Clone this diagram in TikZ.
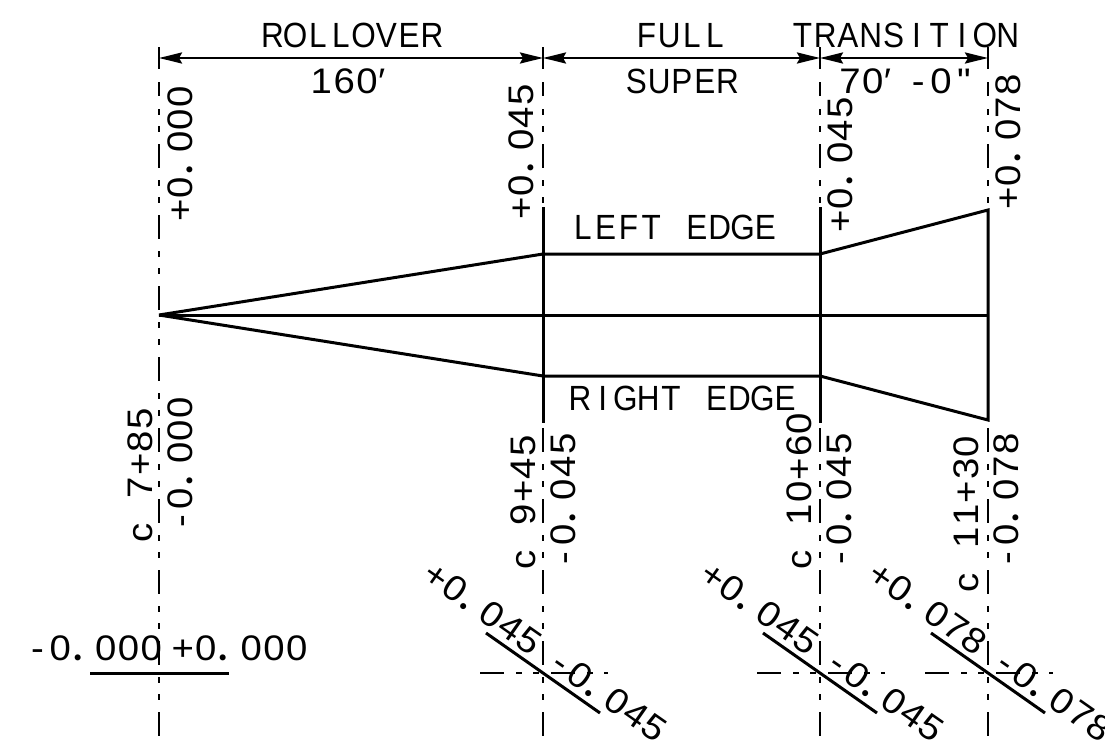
\documentclass[tikz,border=0pt]{standalone}
\usepackage{fontspec}
\setmainfont{Liberation Sans}
\newfontfamily\cadfont[FakeStretch=0.9]{Liberation Sans}
\newfontfamily\numfont[FakeStretch=1.08]{Liberation Sans}
\newfontfamily\dotfont{Lato}
\usetikzlibrary{arrows.meta}
\makeatletter
\newlength{\cadpitch}\setlength{\cadpitch}{22.8pt}
\def\cad@dot{.}\def\cad@sp{~}\def\cad@pr{'}
\newcommand{\cad@run}[1]{\@tfor\cad@x:=#1\do{%
  \ifx\cad@x\cad@dot\makebox[\cadpitch][c]{\hspace{-10pt}{\fontsize{48}{48}\dotfont.}}%
  \else\ifx\cad@x\cad@sp\hspace{\cadpitch}%
  \else\ifx\cad@x\cad@pr\makebox[\cadpitch][c]{\hspace{-16pt}′}%
  \else\makebox[\cadpitch][c]{\cad@x}\fi\fi\fi}}
\newcommand{\cadstr}[1]{{\fontsize{35}{35}\cadfont\cad@run{#1}}}
\newcommand{\cadnum}[1]{{\fontsize{35.5}{35.5}\numfont\cad@run{#1}}}
\makeatother
\tikzset{
  cadlabel/.style={inner sep=0pt,outer sep=0pt,anchor=base west,text=black},
  uplabel/.style={cadlabel,rotate=90},
  slantlabel/.style={cadlabel,rotate=-35},
  heavy/.style={line width=3pt,draw=black,line cap=butt},
  dimline/.style={line width=2.6pt,draw=black,{Stealth[length=23pt,width=11pt,inset=3pt]}-{Stealth[length=23pt,width=11pt,inset=3pt]}},
  tick/.style={line width=1.8pt,draw=black},
  chain/.style={line width=1.8pt,draw=black,dash pattern=on 24pt off 12pt on 6pt off 11pt on 6pt off 12pt}
}
\begin{document}
\begin{tikzpicture}[x=1pt,y=-1pt]
\useasboundingbox (0,0) rectangle (1105,742);
\clip (0,0) rectangle (1105,742);
\foreach \n/\x in {a/159,b/543,c/820,d/988}{
  \coordinate (\n tt) at (\x,47);
  \coordinate (\n dim) at (\x,58);
  \coordinate (\n tb) at (\x,69);
  \coordinate (\n st) at (\x,82);
  \coordinate (\n se) at (\x,96);
  \coordinate (\n ch) at (\x,109);
  \coordinate (\n end) at (\x,737);
  \draw[tick] (\n tt) -- (\n tb);
  \draw[tick] (\n st) -- (\n se);
  \draw[chain,dash phase=36pt] (\n ch) -- (\n end);
}
\draw[dimline] (adim) -- (bdim);
\draw[dimline] (bdim) -- (cdim);
\draw[dimline] (cdim) -- (ddim);
% section outline
\coordinate (apex) at (159,315);
\coordinate (lb) at (543,254); \coordinate (lc) at (820,254); \coordinate (ld) at (988,210);
\coordinate (rb) at (543,376); \coordinate (rc) at (820,376); \coordinate (rd) at (988,420);
\coordinate (mid) at (988,315);
\coordinate (bt) at (543,207); \coordinate (bb) at (543,423);
\coordinate (ct) at (820,207); \coordinate (cb) at (820,423);
\draw[heavy,line join=miter] (apex) -- (lb) -- (lc) -- (ld) -- (rd) -- (rc) -- (rb) -- (apex);
\draw[heavy] (apex) -- (mid);
\draw[heavy] (bt) -- (bb);
\draw[heavy] (ct) -- (cb);
% cross-slope lines
\foreach \n/\x in {b/480,c/757,d/925}{
  \coordinate (\n hs) at (\x,673);
  \coordinate (\n he) at (\x+128,673);
  \draw[chain] (\n hs) -- (\n he);
}
\foreach \n/\x in {b/486,c/763,d/931}{
  \coordinate (\n us) at (\x,633);
  \coordinate (\n ue) at (\x+114,713);
  \draw[heavy] (\n us) -- (\n ue);
}
\coordinate (aus) at (90,673); \coordinate (aue) at (229,673);
\draw[heavy] (aus) -- (aue);
% horizontal labels
\node[cadlabel] (trollover) at (261,47) {\cadstr{ROLLOVER}};
\node[cadlabel] (t160) at (310,93) {\cadnum{160'}};
\node[cadlabel] (tfull) at (635,47) {\cadstr{FULL}};
\node[cadlabel] (tsuper) at (625,93) {\cadstr{SUPER}};
\node[cadlabel] (ttrans) at (791,47) {\cadstr{TRANSITION}};
\node[cadlabel] (t70) at (838.5,93) {\cadnum{70'-0"}};
\node[cadlabel] (tleft) at (571.5,239) {\cadstr{LEFT~EDGE}};
\node[cadlabel] (tright) at (568.5,410) {\cadstr{RIGHT~EDGE}};
\node[cadlabel] (tm0) at (26,660) {\cadnum{-0.000}};
\node[cadlabel] (tp0) at (171.5,660) {\cadnum{+0.000}};
% upright labels
\node[uplabel] (up1) at (192,222) {\cadnum{+0.000}};
\node[uplabel] (up2) at (533,220) {\cadnum{+0.045}};
\node[uplabel] (up3) at (852,233) {\cadnum{+0.045}};
\node[uplabel] (up4) at (1020,210) {\cadnum{+0.078}};
\node[uplabel] (st1) at (152,544.5) {\cadnum{c~7+85}};
\node[uplabel] (st2) at (535,571.5) {\cadnum{c~9+45}};
\node[uplabel] (st3) at (811,571.5) {\cadnum{c~10+60}};
\node[uplabel] (st4) at (978,594.5) {\cadnum{c~11+30}};
\node[uplabel] (dn1) at (192,533) {\cadnum{-0.000}};
\node[uplabel] (dn2) at (575,569.5) {\cadnum{-0.045}};
\node[uplabel] (dn3) at (851,569.5) {\cadnum{-0.045}};
\node[uplabel] (dn4) at (1018,569.5) {\cadnum{-0.078}};
% slanted labels
\node[slantlabel] (sp2) at (420,579) {\cadnum{+0.045}};
\node[slantlabel] (sp3) at (697,579) {\cadnum{+0.045}};
\node[slantlabel] (sp4) at (865,579) {\cadnum{+0.078}};
\node[slantlabel] (sm2) at (545,666) {\cadnum{-0.045}};
\node[slantlabel] (sm3) at (822,666) {\cadnum{-0.045}};
\node[slantlabel] (sm4) at (990,666) {\cadnum{-0.078}};
\end{tikzpicture}
\end{document}
